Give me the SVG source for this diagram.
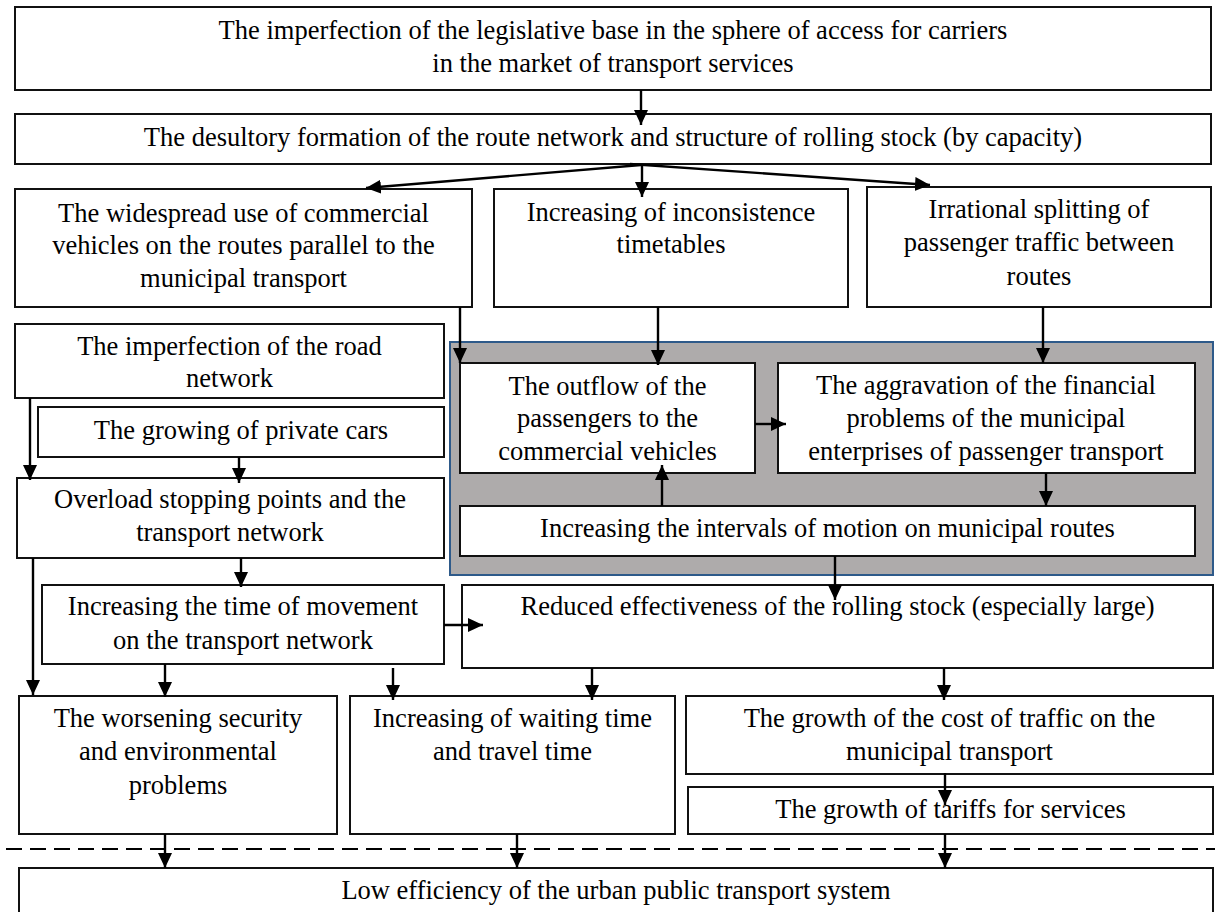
<svg xmlns="http://www.w3.org/2000/svg" width="1215" height="912" viewBox="0 0 1215 912">
<style>
.b{fill:#fff;stroke:#111;stroke-width:2}
.t{font-family:"Liberation Serif","Times New Roman",serif;font-size:26.5px;fill:#000;text-anchor:middle}
.c{stroke:#000;stroke-width:2.4;fill:none;marker-end:url(#ah)}
</style>
<defs>
<marker id="ah" markerUnits="userSpaceOnUse" markerWidth="16" markerHeight="15" refX="15" refY="7" orient="auto">
<path d="M0,0 L15,7 L0,14 z" fill="#000"/>
</marker>
</defs>
<rect width="1215" height="912" fill="#fff"/>
<g id="group-core">
<rect x="450" y="342" width="763" height="233" fill="#aeabab" stroke="#2e5a8a" stroke-width="2"/>
</g>
<g id="n1"><rect class="b" x="15" y="7" width="1196" height="83"/>
<text class="t" x="613" y="39">The imperfection of the legislative base in the sphere of access for carriers</text>
<text class="t" x="613" y="72">in the market of transport services</text></g>
<g id="n2"><rect class="b" x="15" y="114" width="1196" height="50"/>
<text class="t" x="613" y="146">The desultory formation of the route network and structure of rolling stock (by capacity)</text></g>
<g id="n3"><rect class="b" x="15" y="189" width="457" height="118"/>
<text class="t" x="243.5" y="222">The widespread use of commercial</text>
<text class="t" x="243.5" y="254">vehicles on the routes parallel to the</text>
<text class="t" x="243.5" y="287">municipal transport</text></g>
<g id="n4"><rect class="b" x="494" y="189" width="354" height="118"/>
<text class="t" x="671" y="221">Increasing of inconsistence</text>
<text class="t" x="671" y="253">timetables</text></g>
<g id="n5"><rect class="b" x="867" y="187" width="344" height="120"/>
<text class="t" x="1039" y="218">Irrational splitting of</text>
<text class="t" x="1039" y="251">passenger traffic between</text>
<text class="t" x="1039" y="285">routes</text></g>
<g id="n6"><rect class="b" x="15" y="324" width="429" height="74"/>
<text class="t" x="229.5" y="355">The imperfection of the road</text>
<text class="t" x="229.5" y="387">network</text></g>
<g id="n7"><rect class="b" x="38" y="407" width="406" height="50"/>
<text class="t" x="241" y="439">The growing of private cars</text></g>
<g id="n8"><rect class="b" x="17" y="478" width="427" height="80"/>
<text class="t" x="230" y="508">Overload stopping points and the</text>
<text class="t" x="230" y="541">transport network</text></g>
<g id="n9"><rect class="b" x="42" y="585" width="402" height="79"/>
<text class="t" x="243" y="615">Increasing the time of movement</text>
<text class="t" x="243" y="649">on the transport network</text></g>
<g id="n10"><rect class="b" x="460" y="363" width="295" height="110"/>
<text class="t" x="607.5" y="395">The outflow of the</text>
<text class="t" x="607.5" y="427">passengers to the</text>
<text class="t" x="607.5" y="460">commercial vehicles</text></g>
<g id="n11"><rect class="b" x="778" y="363" width="417" height="110"/>
<text class="t" x="986" y="394">The aggravation of the financial</text>
<text class="t" x="986" y="427">problems of the municipal</text>
<text class="t" x="986" y="460">enterprises of passenger transport</text></g>
<g id="n12"><rect class="b" x="460" y="506" width="735" height="50"/>
<text class="t" x="827.5" y="537">Increasing the intervals of motion on municipal routes</text></g>
<g id="n13"><rect class="b" x="462" y="585" width="751" height="83"/>
<text class="t" x="837.5" y="615">Reduced effectiveness of the rolling stock (especially large)</text></g>
<g id="n14"><rect class="b" x="19" y="696" width="318" height="138"/>
<text class="t" x="178" y="727">The worsening security</text>
<text class="t" x="178" y="760">and environmental</text>
<text class="t" x="178" y="794">problems</text></g>
<g id="n15"><rect class="b" x="350" y="696" width="325" height="138"/>
<text class="t" x="512.5" y="727">Increasing of waiting time</text>
<text class="t" x="512.5" y="760">and travel time</text></g>
<g id="n16"><rect class="b" x="686" y="696" width="527" height="78"/>
<text class="t" x="949.5" y="727">The growth of the cost of traffic on the</text>
<text class="t" x="949.5" y="760">municipal transport</text></g>
<g id="n17"><rect class="b" x="688" y="787" width="525" height="47"/>
<text class="t" x="950.5" y="818">The growth of tariffs for services</text></g>
<g id="n18"><rect class="b" x="19" y="868" width="1194" height="60"/>
<text class="t" x="616" y="899">Low efficiency of the urban public transport system</text></g>
<g id="connectors">
<path class="c" d="M641,90 L641,125"/>
<path class="c" d="M641,165 L366,188"/>
<path class="c" d="M642,164 L642,197"/>
<path class="c" d="M630,164 L930,185"/>
<path class="c" d="M460,307 L460,363"/>
<path class="c" d="M658,307 L658,365"/>
<path class="c" d="M1043,307 L1043,363"/>
<path class="c" d="M755,424 L786,424"/>
<path class="c" d="M1046,473 L1046,506"/>
<path class="c" d="M662,506 L662,465"/>
<path class="c" d="M835,556 L835,600"/>
<path class="c" d="M30,398 L30,480"/>
<path class="c" d="M239,457 L239,483"/>
<path class="c" d="M241,558 L241,587"/>
<path class="c" d="M444,625 L483,625"/>
<path class="c" d="M33,558 L33,695"/>
<path class="c" d="M165,664 L165,697"/>
<path class="c" d="M393,668 L393,700"/>
<path class="c" d="M592,668 L592,700"/>
<path class="c" d="M944,668 L944,700"/>
<path class="c" d="M945,773 L945,805"/>
<path class="c" d="M165,834 L165,868"/>
<path class="c" d="M517,834 L517,868"/>
<path class="c" d="M945,834 L945,868"/>
<path d="M6,849 L1215,849" stroke="#000" stroke-width="2" stroke-dasharray="16,8" fill="none"/>
</g>
</svg>
